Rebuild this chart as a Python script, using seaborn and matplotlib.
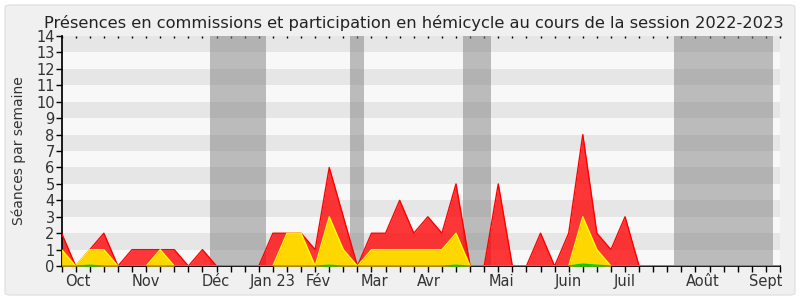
import numpy as np
import pandas as pd
import matplotlib
matplotlib.use("Agg")
import matplotlib.pyplot as plt
import matplotlib.transforms as mtransforms
from matplotlib.patches import FancyBboxPatch
import seaborn as sns

weeks = list(range(52))
total = [2, 0, 1, 2, 0, 1, 1, 1, 1, 0, 1, 0, 0, 0, 0, 2, 2, 2, 1, 6,
         3, 0, 2, 2, 4, 2, 3, 2, 5, 0, 0, 5, 0, 0, 2, 0, 2, 8, 2, 1,
         3, 0, 0, 0, 0, 0, 0, 0, 0, 0, 0, 0]
commission = [1, 0, 1, 1, 0, 0, 0, 1, 0, 0, 0, 0, 0, 0, 0, 0, 2, 2, 0, 3,
              1, 0, 1, 1, 1, 1, 1, 1, 2, 0, 0, 0, 0, 0, 0, 0, 0, 3, 1, 0,
              0, 0, 0, 0, 0, 0, 0, 0, 0, 0, 0, 0]
green = [0, 0, 0.05, 0, 0, 0, 0, 0, 0, 0, 0, 0, 0, 0, 0, 0, 0, 0, 0, 0.05,
         0, 0, 0, 0, 0, 0, 0, 0, 0.05, 0, 0, 0, 0, 0, 0, 0, 0, 0.12, 0.05, 0,
         0, 0, 0, 0, 0, 0, 0, 0, 0, 0, 0, 0]
vacations = [(10.5, 14.5), (20.5, 21.5), (28.5, 30.5), (43.5, 50.5)]
month_labels = ["Oct", "Nov", "Déc", "Jan 23", "Fév", "Mar", "Avr", "Mai",
                "Juin", "Juil", "Août", "Sept"]
month_pos = [1.15, 6.0, 10.95, 14.95, 18.2, 22.2, 26.1, 31.25, 36.0, 40.0,
             45.5, 50.0]

df = pd.DataFrame({"week": weeks, "total": total, "commission": commission,
                   "green": green})

sns.set_theme(style="white")
plt.rcParams['font.family'] = ['DejaVu Sans']

fig = plt.figure(figsize=(8, 3), dpi=100, facecolor="white")
panel = FancyBboxPatch((5 / 800, 5 / 300), 790 / 800, 290 / 300,
                       boxstyle="round,pad=0,rounding_size=0.008",
                       transform=fig.transFigure, facecolor="#f0f0f0",
                       edgecolor="#e2e2e2", lw=1, zorder=-10)
fig.patches.append(panel)

ax = fig.add_axes([0.077, 0.113, 0.898, 0.767])
ax.set_facecolor("#f8f8f8")

for k in range(7):
    ax.axhspan(2 * k + 1, 2 * k + 2, color="#e6e6e6", lw=0, zorder=0)
for a, b in vacations:
    ax.axvspan(a, b, color="#808080", alpha=0.5, lw=0, zorder=1)

ax.fill_between(df["week"], 0, df["total"], color="#ff0000", alpha=0.78,
                lw=0, zorder=2)
sns.lineplot(data=df, x="week", y="total", color="#ff0000", lw=1, ax=ax,
             zorder=3)
ax.fill_between(df["week"], 0, df["commission"], color="#ffd700", lw=0,
                zorder=4)
sns.lineplot(data=df, x="week", y="commission", color="#ffff00", lw=1,
             ax=ax, zorder=5)
ax.fill_between(df["week"], 0, df["green"], color="#00cc00", lw=0, zorder=6)
sns.lineplot(data=df, x="week", y="green", color="#00cc00", lw=1, ax=ax,
             zorder=7)

ax.set_xlim(0, 51)
ax.set_ylim(0, 14)
ax.set_yticks(range(15))
ax.set_yticklabels([str(i) for i in range(15)], fontsize=10.5, color="#333333")
ax.set_xticks(weeks)
ax.set_xticklabels([])
ax.tick_params(axis="x", which="major", direction="out", length=4, width=1,
               color="black", bottom=True, top=False)
ax.tick_params(axis="y", direction="out", length=4, width=1, color="black",
               left=True, pad=1)

trans = mtransforms.blended_transform_factory(ax.transData, ax.transAxes)
for lab, pos in zip(month_labels, month_pos):
    ax.text(pos, -0.035, lab, transform=trans, ha="center", va="top",
            fontsize=10.5, color="#333333")

sec = ax.secondary_xaxis("top")
sec.set_xticks(weeks)
sec.set_xticklabels([])
sec.tick_params(direction="in", length=1.5, width=1, color="black")
sec.spines["top"].set_visible(False)

for s in ["top", "right"]:
    ax.spines[s].set_visible(False)
ax.spines["left"].set_color("black")
ax.spines["bottom"].set_color("black")
ax.set_xlabel("")
ax.set_ylabel("Séances par semaine", fontsize=10, color="#333333", labelpad=7)
ax.set_title("Présences en commissions et participation en hémicycle au cours de la session 2022-2023",
             fontsize=11.7, color="#222222", pad=6, x=0.4905)
ax.grid(False)

fig.savefig("out.png", dpi=100, facecolor=fig.get_facecolor())
